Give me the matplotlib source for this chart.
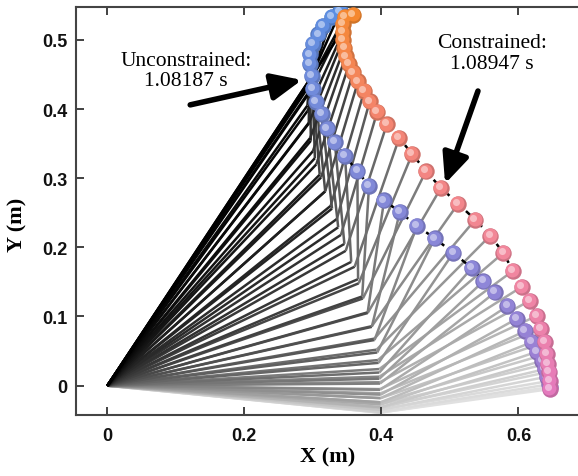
import numpy as np
import matplotlib.pyplot as plt
from matplotlib.colors import LinearSegmentedColormap, to_rgb
from matplotlib.transforms import offset_copy

# constrained trajectory: end effector (sphere centres), start -> end
con_x = [0.646, 0.646, 0.645, 0.643, 0.642, 0.639, 0.633, 0.627, 0.617, 0.605, 0.592,
         0.578, 0.559, 0.537, 0.512, 0.487, 0.465, 0.445, 0.426, 0.408, 0.394, 0.383,
         0.375, 0.366, 0.359, 0.353, 0.348, 0.346, 0.344, 0.344, 0.344, 0.347, 0.359]
con_y = [-0.005, 0.007, 0.020, 0.032, 0.046, 0.063, 0.082, 0.101, 0.123, 0.143, 0.166,
         0.192, 0.217, 0.240, 0.263, 0.286, 0.310, 0.335, 0.358, 0.378, 0.396, 0.411,
         0.426, 0.440, 0.453, 0.465, 0.476, 0.488, 0.500, 0.511, 0.523, 0.533, 0.536]
# constrained trajectory: elbow
con_ex = [0.398, 0.398, 0.399, 0.399, 0.399, 0.399, 0.399, 0.398, 0.398, 0.397, 0.397,
          0.395, 0.393, 0.390, 0.386, 0.380, 0.373, 0.367, 0.361, 0.348, 0.341, 0.335,
          0.326, 0.318, 0.312, 0.305, 0.300, 0.296, 0.294, 0.292, 0.293, 0.296, 0.297]
con_ey = [-0.039, -0.035, -0.031, -0.027, -0.024, -0.018, -0.011, -0.005, 0.005, 0.013, 0.024,
          0.037, 0.052, 0.068, 0.086, 0.105, 0.126, 0.148, 0.172, 0.195, 0.218, 0.241,
          0.260, 0.281, 0.301, 0.320, 0.339, 0.358, 0.379, 0.397, 0.421, 0.440, 0.445]

# unconstrained trajectory: end effector
unc_x = [0.646, 0.645, 0.642, 0.639, 0.635, 0.627, 0.620, 0.610, 0.598, 0.584, 0.566, 0.549,
         0.532, 0.505, 0.478, 0.452, 0.427, 0.404, 0.382, 0.365, 0.347, 0.332, 0.321, 0.313,
         0.305, 0.300, 0.299, 0.296, 0.296, 0.300, 0.308, 0.315, 0.328, 0.340]
unc_y = [-0.002, 0.002, 0.013, 0.024, 0.036, 0.049, 0.063, 0.079, 0.097, 0.115, 0.135, 0.151,
         0.170, 0.192, 0.213, 0.231, 0.251, 0.268, 0.289, 0.310, 0.332, 0.352, 0.372, 0.393,
         0.410, 0.429, 0.448, 0.465, 0.479, 0.494, 0.508, 0.520, 0.533, 0.541]
# unconstrained trajectory: elbow
unc_ex = [0.398, 0.398, 0.398, 0.399, 0.399, 0.399, 0.399, 0.399, 0.399, 0.398, 0.398, 0.397,
          0.397, 0.396, 0.394, 0.390, 0.386, 0.380, 0.372, 0.366, 0.356, 0.346, 0.337, 0.328,
          0.318, 0.310, 0.303, 0.297, 0.294, 0.292, 0.293, 0.295, 0.296, 0.297]
unc_ey = [-0.039, -0.038, -0.035, -0.032, -0.031, -0.027, -0.024, -0.018, -0.013, -0.006, 0.003, 0.010,
          0.019, 0.033, 0.048, 0.066, 0.085, 0.106, 0.129, 0.154, 0.179, 0.205, 0.229, 0.256,
          0.281, 0.305, 0.329, 0.354, 0.380, 0.405, 0.423, 0.434, 0.440, 0.445]

unc_text = "Unconstrained:\n1.08187 s"
con_text = "Constrained:\n1.08947 s"

con_cmap = LinearSegmentedColormap.from_list("con", ["#e47abd", "#f2879e", "#f48466", "#f5882f"])
unc_cmap = LinearSegmentedColormap.from_list("unc", ["#a57bd0", "#8e86d8", "#7a8ad8", "#5a8ee2"])

fig = plt.figure(figsize=(5.78, 4.77), dpi=100)
ax = fig.add_axes([0.1315, 0.1285, 0.8685, 0.854])

# arm links, light grey at the start and black at the end
arms = []
for xs, ys, exs, eys in [(con_x, con_y, con_ex, con_ey), (unc_x, unc_y, unc_ex, unc_ey)]:
    n = len(xs)
    for i in range(n):
        arms.append((i / (n - 1), exs[i], eys[i], xs[i], ys[i]))
arms.sort(key=lambda a: a[0])
for t, ex, ey, px, py in arms:
    g1 = 0.85 * (1 - t) ** 1.5
    g2 = 0.88 * (1 - t) ** 0.85
    ax.plot([0, ex], [0, ey], color=(g1, g1, g1), lw=1.8,
            solid_capstyle='butt', zorder=1)
    ax.plot([ex, px], [ey, py], color=(g2, g2, g2), lw=1.8,
            solid_capstyle='butt', zorder=1)

# dashed path lines
ax.plot(unc_x, unc_y, color='k', lw=1.8, ls=(0, (3, 3)), zorder=2)
ax.plot(con_x, con_y, color='k', lw=1.8, ls=(0, (3, 3)), zorder=2)

# spheres
hl = offset_copy(ax.transData, fig=fig, x=-1.8, y=1.8, units='dots')
mid = offset_copy(ax.transData, fig=fig, x=-0.7, y=0.7, units='dots')
for k, (xs, ys, cmap) in enumerate([(unc_x, unc_y, unc_cmap), (con_x, con_y, con_cmap)]):
    n = len(xs)
    cols = [cmap(i / (n - 1)) for i in range(n)]
    dark = [tuple(0.85 * np.array(to_rgb(c))) for c in cols]
    light = [tuple(np.array(to_rgb(c)) * 0.55 + 0.45) for c in cols]
    for i in range(n):
        z = 3 + k * 3
        ax.scatter(xs[i], ys[i], s=140, color=dark[i], lw=0, zorder=z)
        ax.scatter(xs[i], ys[i], s=100, color=cols[i], lw=0, zorder=z + 0.1, transform=mid)
        ax.scatter(xs[i], ys[i], s=26, color=light[i], lw=0, zorder=z + 0.2, transform=hl)

# annotations
ax.text(0.115, 0.456, unc_text, ha='center', va='center', fontsize=15.5,
        family='Liberation Serif', linespacing=1.1, zorder=10)
ax.annotate('', xy=(0.284, 0.442), xytext=(0.121, 0.406),
            arrowprops=dict(arrowstyle='-|>,head_length=0.9,head_width=0.4', lw=4,
                            color='k', shrinkA=0, shrinkB=0, mutation_scale=20), zorder=10)
ax.text(0.561, 0.481, con_text, ha='center', va='center', fontsize=15.5,
        family='Liberation Serif', linespacing=1.1, zorder=10)
ax.annotate('', xy=(0.493, 0.292), xytext=(0.541, 0.426),
            arrowprops=dict(arrowstyle='-|>,head_length=0.9,head_width=0.4', lw=4,
                            color='k', shrinkA=0, shrinkB=0, mutation_scale=20), zorder=10)

ax.set_xlim(-0.0457, 0.687)
ax.set_ylim(-0.042, 0.547)
ax.set_xticks([0, 0.2, 0.4, 0.6])
ax.set_xticklabels(['0', '0.2', '0.4', '0.6'])
ax.set_yticks([0, 0.1, 0.2, 0.3, 0.4, 0.5])
ax.set_yticklabels(['0', '0.1', '0.2', '0.3', '0.4', '0.5'])
ax.tick_params(axis='x', direction='in', top=True, length=6, width=1.3, pad=9, colors='#333333')
ax.tick_params(axis='y', direction='in', right=False, length=6, width=1.3, pad=6, colors='#333333')
for lab in ax.get_xticklabels() + ax.get_yticklabels():
    lab.set_fontfamily('Liberation Sans')
    lab.set_fontweight('bold')
    lab.set_fontsize(13)
    lab.set_color('#111111')
for s in ['left', 'top', 'bottom']:
    ax.spines[s].set_linewidth(1.5)
    ax.spines[s].set_color('#444444')
ax.spines['right'].set_visible(False)

fig.text(0.5675, 0.040, 'X (m)', ha='center', va='center', fontsize=16,
         family='Liberation Serif', fontweight='bold')
fig.text(0.030, 0.528, 'Y (m)', ha='center', va='center', fontsize=16, rotation=90,
         family='Liberation Serif', fontweight='bold')

fig.savefig('out.png', dpi=100)
